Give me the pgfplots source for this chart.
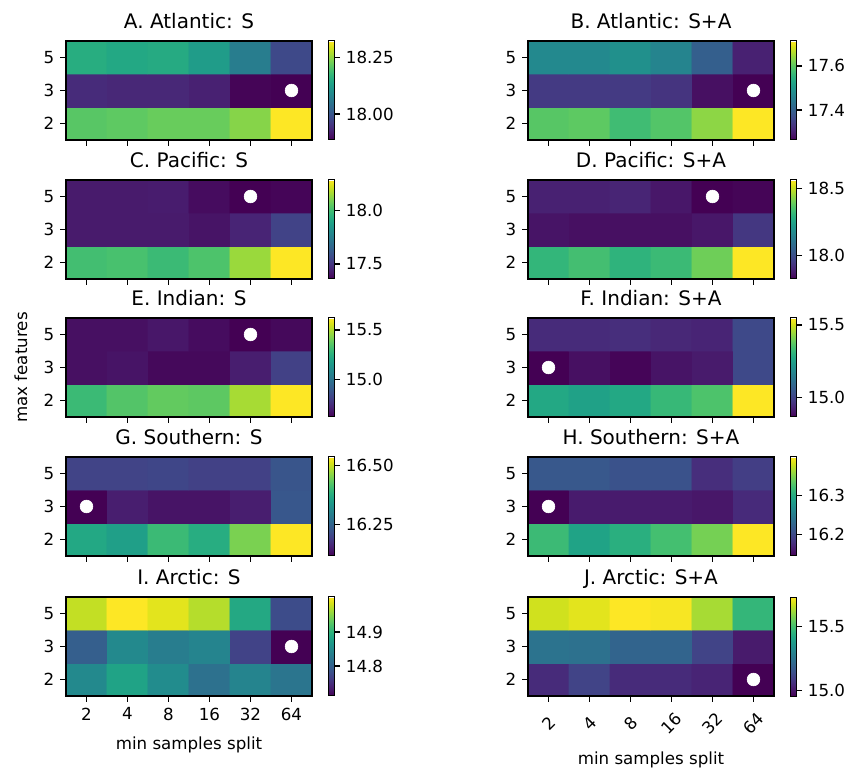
\documentclass[border=0pt]{standalone}
\usepackage{fontspec}
\setmainfont{DejaVu Sans}
\usepackage{pgfplots}
\pgfplotsset{compat=1.18}
\pgfplotsset{
  hm/.style={
    scale only axis, width=147.6pt, height=59.4pt,
    anchor=north west,
    xmin=-0.5, xmax=5.5, ymin=-0.5, ymax=2.5,
    enlargelimits=false, axis on top,
    xtick={0,1,2,3,4,5}, xticklabels={},
    ytick={0,1,2}, yticklabels={2,3,5},
    tick align=outside, xtick pos=bottom, ytick pos=left,
    major tick length=3.5pt,
    tick style={black, line width=0.8pt},
    axis line style={line width=0.8pt},
    tick label style={font=\fontsize{10}{12}\selectfont},
    /pgf/number format/assume math mode=true,
    title style={font=\fontsize{12}{14.4}\selectfont, anchor=base, yshift=1.6pt},
    colormap name=viridis,
    colorbar,
    colorbar style={
      at={(parent axis.north east)}, anchor=north west, xshift=1.2pt,
      width=3.6pt,
      ytick pos=right, yticklabel pos=right, tick align=outside,
      major tick length=3.5pt,
      tick style={black, line width=0.8pt},
      axis line style={line width=0.6pt},
      yticklabel style={font=\fontsize{10}{12}\selectfont},
      /pgf/number format/assume math mode=true,
    },
  },
  dot/.style={only marks, mark=*, mark size=3.8pt, mark options={fill=white, draw=white}},
}
\begin{document}
\begin{tikzpicture}
\path[use as bounding box] (0,0) rectangle (514.8pt,461.4pt);

% A
\begin{axis}[hm, at={(39.6pt,436.8pt)}, title={A. Atlantic: S},
  colorbar style={ytick={18.00,18.25}, yticklabels={18.00,18.25}}]
\addplot[matrix plot*, mesh/cols=6, point meta=explicit] table[meta=C] {
x y C
0 0 18.209
1 0 18.214
2 0 18.222
3 0 18.222
4 0 18.244
5 0 18.323
0 1 17.938
1 1 17.933
2 1 17.933
3 1 17.924
4 1 17.889
5 1 17.885
0 2 18.157
1 2 18.148
2 2 18.152
3 2 18.126
4 2 18.069
5 2 17.981
};
\addplot[dot] coordinates {(5,1)};
\end{axis}

% B
\begin{axis}[hm, at={(316.8pt,436.8pt)}, title={B. Atlantic: S+A},
  colorbar style={ytick={17.4,17.6}, yticklabels={17.4,17.6}}]
\addplot[matrix plot*, mesh/cols=6, point meta=explicit] table[meta=C] {
x y C
0 0 17.596
1 0 17.601
2 0 17.574
3 0 17.592
4 0 17.637
5 0 17.713
0 1 17.340
1 1 17.340
2 1 17.340
3 1 17.331
4 1 17.282
5 1 17.264
0 2 17.475
1 2 17.475
2 2 17.489
3 2 17.466
4 2 17.399
5 2 17.304
};
\addplot[dot] coordinates {(5,1)};
\end{axis}

% C
\begin{axis}[hm, at={(39.6pt,353.4pt)}, title={C. Pacific: S},
  colorbar style={ytick={17.5,18.0}, yticklabels={17.5,18.0}}]
\addplot[matrix plot*, mesh/cols=6, point meta=explicit] table[meta=C] {
x y C
0 0 18.004
1 0 18.014
2 0 17.986
3 0 18.023
4 0 18.143
5 0 18.281
0 1 17.424
1 1 17.424
2 1 17.424
3 1 17.405
4 1 17.451
5 1 17.543
0 2 17.424
1 2 17.424
2 2 17.428
3 2 17.387
4 2 17.359
5 2 17.368
};
\addplot[dot] coordinates {(4,2)};
\end{axis}

% D
\begin{axis}[hm, at={(316.8pt,353.4pt)}, title={D. Pacific: S+A},
  colorbar style={ytick={18.0,18.5}, yticklabels={18.0,18.5}}]
\addplot[matrix plot*, mesh/cols=6, point meta=explicit] table[meta=C] {
x y C
0 0 18.311
1 0 18.341
2 0 18.304
3 0 18.326
4 0 18.400
5 0 18.562
0 1 17.862
1 1 17.854
2 1 17.854
3 1 17.854
4 1 17.869
5 1 17.943
0 2 17.891
1 2 17.891
2 2 17.899
3 2 17.869
4 2 17.825
5 2 17.832
};
\addplot[dot] coordinates {(4,2)};
\end{axis}

% E
\begin{axis}[hm, at={(39.6pt,270.6pt)}, title={E. Indian: S},
  ylabel={max features},
  ylabel style={at={(axis description cs:-0.1585,0.5)}, anchor=base, font=\fontsize{10}{12}\selectfont},
  colorbar style={ytick={15.0,15.5}, yticklabels={15.0,15.5}}]
\addplot[matrix plot*, mesh/cols=6, point meta=explicit] table[meta=C] {
x y C
0 0 15.30
1 0 15.35
2 0 15.38
3 0 15.37
4 0 15.49
5 0 15.62
0 1 14.66
1 1 14.67
2 1 14.64
3 1 14.64
4 1 14.70
5 1 14.81
0 2 14.66
1 2 14.66
2 2 14.68
3 2 14.65
4 2 14.62
5 2 14.64
};
\addplot[dot] coordinates {(4,2)};
\end{axis}

% F
\begin{axis}[hm, at={(316.8pt,270.6pt)}, title={F. Indian: S+A},
  colorbar style={ytick={15.0,15.5}, yticklabels={15.0,15.5}}]
\addplot[matrix plot*, mesh/cols=6, point meta=explicit] table[meta=C] {
x y C
0 0 15.275
1 0 15.255
2 0 15.275
3 0 15.323
4 0 15.357
5 0 15.548
0 1 14.866
1 1 14.893
2 1 14.873
3 1 14.900
4 1 14.914
5 1 15.016
0 2 14.948
1 2 14.948
2 2 14.955
3 2 14.941
4 2 14.934
5 2 15.016
};
\addplot[dot] coordinates {(0,1)};
\end{axis}

% G
\begin{axis}[hm, at={(39.6pt,187.2pt)}, title={G. Southern: S},
  colorbar style={ytick={16.25,16.50}, yticklabels={16.25,16.50}}]
\addplot[matrix plot*, mesh/cols=6, point meta=explicit] table[meta=C] {
x y C
0 0 16.368
1 0 16.352
2 0 16.402
3 0 16.377
4 0 16.452
5 0 16.536
0 1 16.117
1 1 16.151
2 1 16.138
3 1 16.138
4 1 16.151
5 1 16.230
0 2 16.201
1 2 16.201
2 2 16.205
3 2 16.197
4 2 16.197
5 2 16.226
};
\addplot[dot] coordinates {(0,1)};
\end{axis}

% H
\begin{axis}[hm, at={(316.8pt,187.2pt)}, title={H. Southern: S+A},
  colorbar style={ytick={16.2,16.3}, yticklabels={16.2,16.3}}]
\addplot[matrix plot*, mesh/cols=6, point meta=explicit] table[meta=C] {
x y C
0 0 16.317
1 0 16.291
2 0 16.304
3 0 16.322
4 0 16.345
5 0 16.398
0 1 16.144
1 1 16.162
2 1 16.162
3 1 16.162
4 1 16.159
5 1 16.174
0 2 16.213
1 2 16.213
2 2 16.208
3 2 16.208
4 2 16.177
5 2 16.190
};
\addplot[dot] coordinates {(0,1)};
\end{axis}

% I
\begin{axis}[hm, at={(39.6pt,103.2pt)}, title={I. Arctic: S},
  xticklabels={2,4,8,16,32,64},
  xlabel={min samples split},
  xlabel style={at={(axis description cs:0.5,-0.539)}, anchor=base, font=\fontsize{10}{12}\selectfont},
  colorbar style={ytick={14.8,14.9}, yticklabels={14.8,14.9}}]
\addplot[matrix plot*, mesh/cols=6, point meta=explicit] table[meta=C] {
x y C
0 0 14.849
1 0 14.881
2 0 14.852
3 0 14.820
4 0 14.843
5 0 14.825
0 1 14.799
1 1 14.849
2 1 14.834
3 1 14.843
4 1 14.770
5 1 14.712
0 2 14.977
1 2 15.003
2 2 14.991
3 2 14.971
4 2 14.887
5 2 14.779
};
\addplot[dot] coordinates {(5,1)};
\end{axis}

% J
\begin{axis}[hm, at={(316.8pt,103.2pt)}, title={J. Arctic: S+A},
  xticklabels={2,4,8,16,32,64},
  xticklabel style={yshift=-13pt, rotate=45, anchor=center},
  xlabel={min samples split},
  xlabel style={at={(axis description cs:0.5,-0.69)}, anchor=base, font=\fontsize{10}{12}\selectfont},
  colorbar style={ytick={15.0,15.5}, yticklabels={15.0,15.5}}]
\addplot[matrix plot*, mesh/cols=6, point meta=explicit] table[meta=C] {
x y C
0 0 15.051
1 0 15.113
2 0 15.051
3 0 15.051
4 0 15.036
5 0 14.959
0 1 15.251
1 1 15.244
2 1 15.205
3 1 15.205
4 1 15.113
5 1 15.013
0 2 15.674
1 2 15.697
2 2 15.728
3 2 15.720
4 2 15.628
5 2 15.467
};
\addplot[dot] coordinates {(5,0)};
\end{axis}
\end{tikzpicture}
\end{document}
